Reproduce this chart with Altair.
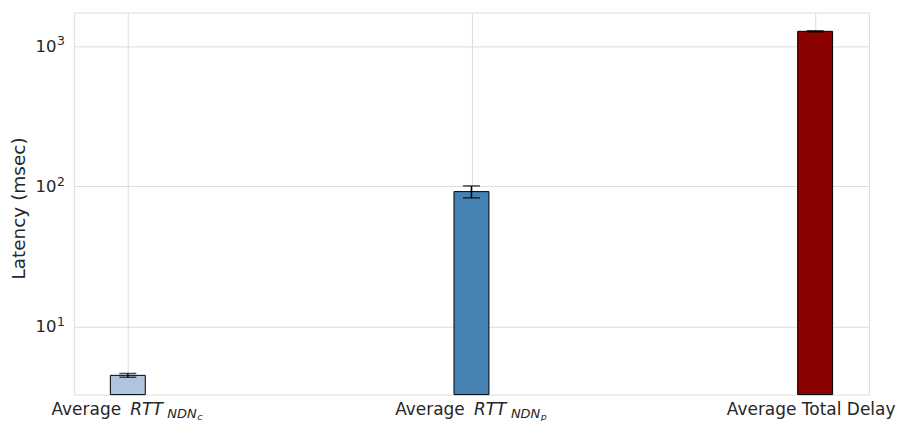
import altair as alt
import pandas as pd

# ---- data ----
categories = ["NDNc", "NDNp", "Total"]
means = [4.5, 92.0, 1280.0]
errors = [0.14, 9.0, 12.0]
bar_colors = ["#b0c4de", "#4682b4", "#8b0000"]
sub_letters = ["c", "p"]
y_tick_values = [10, 100, 1000]
y_tick_exponents = ["1", "2", "3"]
y_min, y_max = 3.28, 1745

W, H = 797, 383
FONT = "DejaVu Sans"
TXT = "#262626"
GRID = "#dcdcdc"

df = pd.DataFrame({"cat": categories, "mean": means, "err": errors})
df["lo"] = df["mean"] - df["err"]
df["hi"] = df["mean"] + df["err"]
df["base"] = y_min

xscale = alt.Scale(type="point", domain=categories, padding=0.157)
yscale = alt.Scale(type="log", domain=[y_min, y_max], nice=False)

bars = alt.Chart(df).mark_bar(size=35, stroke="black", strokeWidth=1).encode(
    x=alt.X("cat:N", scale=xscale,
            axis=alt.Axis(labels=False, ticks=False, domain=False, title=None,
                          grid=True, gridColor=GRID, gridWidth=1)),
    y=alt.Y("mean:Q", scale=yscale,
            axis=alt.Axis(values=y_tick_values, labelExpr="'10'",
                          title="Latency (msec)", titleFontSize=18.5,
                          titleFontWeight="normal", titleColor=TXT, titleFont=FONT,
                          titleX=-55, titleY=196, titleAngle=-90,
                          titleAlign="center", titleBaseline="middle",
                          labelFontSize=16.5, labelColor=TXT, labelFont=FONT,
                          labelPadding=18, ticks=False, domain=False,
                          grid=True, gridColor=GRID, gridWidth=1)),
    y2="base:Q",
    color=alt.Color("cat:N", scale=alt.Scale(domain=categories, range=bar_colors),
                    legend=None),
)

rules = alt.Chart(df).mark_rule(color="black", strokeWidth=1.5).encode(
    x=alt.X("cat:N", scale=xscale),
    y=alt.Y("lo:Q", scale=yscale),
    y2="hi:Q",
)
caps_lo = alt.Chart(df).mark_tick(color="black", size=17, thickness=1.5).encode(
    x=alt.X("cat:N", scale=xscale), y=alt.Y("lo:Q", scale=yscale))
caps_hi = alt.Chart(df).mark_tick(color="black", size=17, thickness=1.5).encode(
    x=alt.X("cat:N", scale=xscale), y=alt.Y("hi:Q", scale=yscale))

# superscript exponents of the y tick labels
sup = pd.DataFrame({"v": y_tick_values, "e": y_tick_exponents})
t_sup = alt.Chart(sup).mark_text(align="left", baseline="middle", dy=-5,
                                 fontSize=12.5, font=FONT, color=TXT).encode(
    x=alt.value(-17), y=alt.Y("v:Q", scale=yscale), text="e:N")

# ---- x labels with italic / subscript pieces ----
lab = pd.DataFrame({"cat": categories[:2], "avg": ["Average", "Average"],
                    "rtt": ["RTT", "RTT"], "ndn": ["NDN", "NDN"],
                    "sub": sub_letters})
tot = pd.DataFrame({"cat": categories[2:], "txt": ["Average Total Delay"]})

BASE = H + 20

def piece(data, field, dx, size, italic, dy=0, align="left"):
    return alt.Chart(data).mark_text(
        align=align, baseline="alphabetic", dx=dx, dy=dy, fontSize=size,
        font=FONT, fontStyle="italic" if italic else "normal", color=TXT,
    ).encode(x=alt.X("cat:N", scale=xscale), y=alt.value(BASE), text=f"{field}:N")

t_avg = piece(lab, "avg", -76.5, 17, False)
t_rtt = piece(lab, "rtt", 2.5, 17, True)
t_ndn = piece(lab, "ndn", 39.5, 13, True, dy=3.5)
t_sub = piece(lab, "sub", 69.5, 9.5, True, dy=5)
t_tot = piece(tot, "txt", -4, 17, False, align="center")

chart = alt.layer(bars, rules, caps_lo, caps_hi, t_sup,
                  t_avg, t_rtt, t_ndn, t_sub, t_tot).properties(
    width=W, height=H,
    autosize=alt.AutoSizeParams(type="none"),
    padding={"left": 66, "top": 4, "right": 35, "bottom": 26},
).configure_view(stroke=GRID, strokeWidth=1).configure(background="white")

chart.save("out.html", embed_options={"renderer": "svg", "actions": False})
